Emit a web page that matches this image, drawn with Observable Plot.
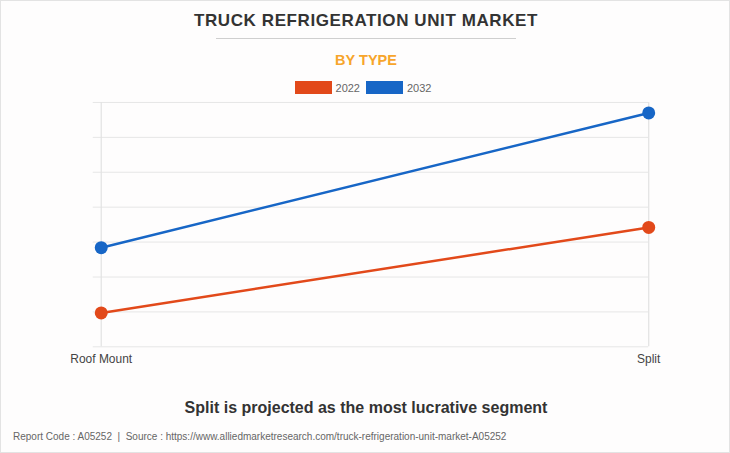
<!DOCTYPE html>
<html>
<head>
<meta charset="utf-8">
<script src="https://cdn.jsdelivr.net/npm/d3@7"></script>
<script src="https://cdn.jsdelivr.net/npm/@observablehq/plot@0.6"></script>
<style>
  html, body { margin: 0; padding: 0; background: #fff; }
  #wrap { position: relative; width: 730px; height: 453px; box-sizing: border-box; border: 1px solid #e3e3e3; background: #fefdfd; font-family: "Liberation Sans", Arial, sans-serif; overflow: hidden; }
  .abs { position: absolute; }
  #title { left: 0; width: 730px; top: 10px; text-align: center; font-weight: bold; font-size: 17px; color: #333; letter-spacing: 0.6px; }
  #rule { left: 215px; width: 300px; top: 37px; height: 1px; background: #cfcfcf; }
  #sub { left: 0; width: 730px; top: 51px; text-align: center; font-weight: bold; font-size: 14.5px; color: #f7a52b; }
  #legend { left: 0; width: 730px; top: 80px; display: flex; justify-content: center; align-items: center; font-size: 11px; color: #666; }
  .sw { display: inline-block; width: 37px; height: 13px; margin-right: 4px; }
  .lt { margin-right: 6px; }
  #chart { left: 0; top: 89px; }
  #caption { left: 0; width: 730px; top: 398px; text-align: center; font-weight: bold; font-size: 16px; color: #333; }
  #footer { left: 12px; top: 430px; font-size: 10px; color: #666; }
</style>
</head>
<body>
<div id="wrap">
  <div id="title" class="abs">TRUCK REFRIGERATION UNIT MARKET</div>
  <div id="rule" class="abs"></div>
  <div id="sub" class="abs">BY TYPE</div>
  <div id="legend" class="abs"></div>
  <div id="chart" class="abs"></div>
  <div id="caption" class="abs">Split is projected as the most lucrative segment</div>
  <div id="footer" class="abs">Report Code : A05252&nbsp; | &nbsp;Source : https://www.alliedmarketresearch.com/truck-refrigeration-unit-market-A05252</div>
</div>
<script>
const categories = ["Roof Mount", "Split"];
const years = ["2022", "2032"];
const values2022 = [0.97, 3.42];
const values2032 = [2.84, 6.70];
const yTicks = [0, 1, 2, 3, 4, 5, 6, 7];
const colors = ["#e2491a", "#1766c6"];

const data = [];
categories.forEach((c, i) => {
  data.push({type: c, year: "2022", value: values2022[i]});
  data.push({type: c, year: "2032", value: values2032[i]});
});

const legend = document.getElementById("legend");
years.forEach((y, i) => {
  const s = document.createElement("span");
  s.className = "sw";
  s.style.background = colors[i];
  legend.appendChild(s);
  const t = document.createElement("span");
  t.className = "lt";
  t.textContent = y;
  legend.appendChild(t);
});

const chart = Plot.plot({
  width: 730,
  height: 290,
  marginLeft: 92,
  marginRight: 81,
  marginTop: 12,
  marginBottom: 33,
  style: {background: "transparent", color: "#444", fontFamily: "Liberation Sans, Arial, sans-serif"},
  x: {type: "point", domain: categories, range: [100, 649], padding: 0, label: null},
  y: {domain: [0, 7], axis: null},
  color: {domain: years, range: colors},
  marks: [
    Plot.ruleY(yTicks, {stroke: "#e6e6e6", strokeWidth: 1}),
    Plot.ruleX(categories, {stroke: "#e2e2e2", strokeWidth: 1.2}),
    Plot.line(data, {x: "type", y: "value", z: "year", stroke: "year", strokeWidth: 2.5}),
    Plot.dot(data, {x: "type", y: "value", fill: "year", r: 6.5}),
    Plot.axisX({tickSize: 0, tickPadding: 8, fontSize: 12, label: null})
  ]
});
document.getElementById("chart").appendChild(chart);
</script>
</body>
</html>
